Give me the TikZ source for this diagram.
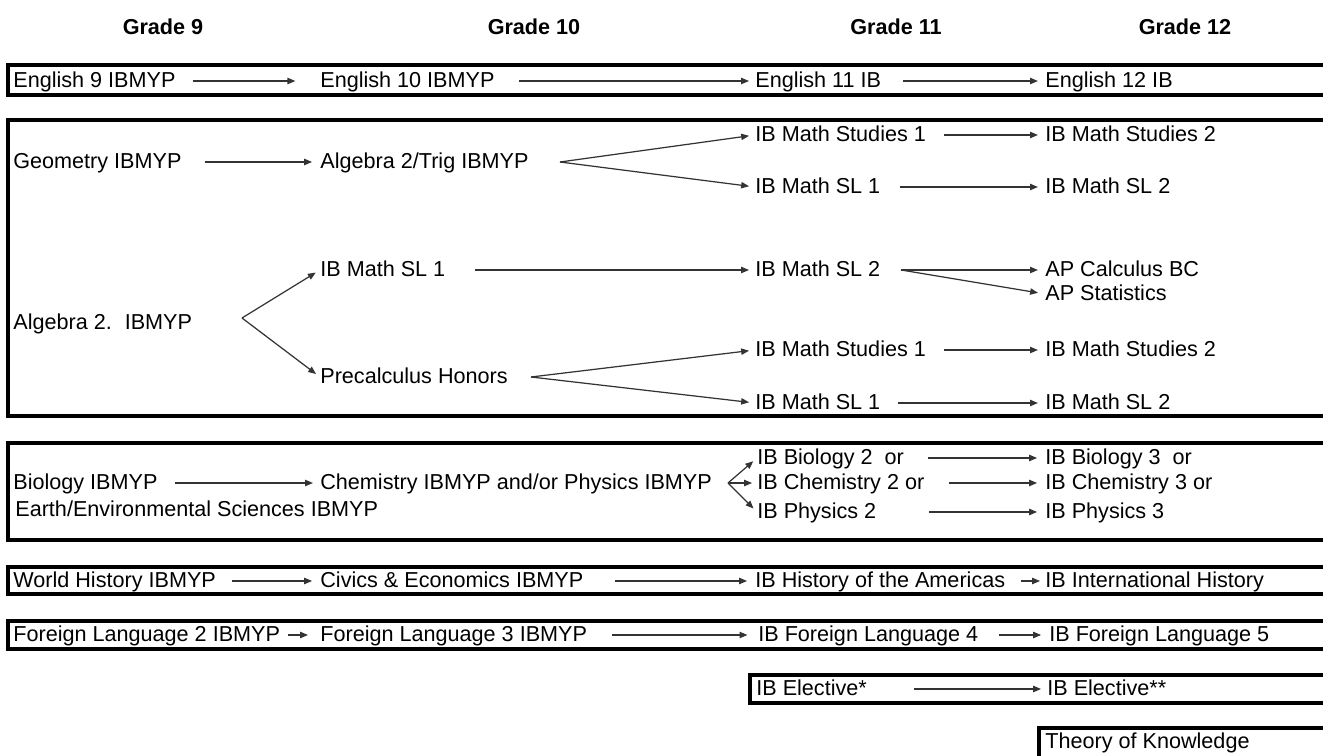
\documentclass[tikz,border=0pt]{standalone}
\usepackage{fontspec}
\setmainfont{Liberation Sans}
\usetikzlibrary{arrows.meta,calc}
\tikzset{
  course/.style={anchor=west,inner sep=0pt,text height=0.72em,text depth=0pt,
    font=\fontsize{12.3}{14}\selectfont},
  grade/.style={inner sep=0pt,font=\fontsize{12.3}{14}\selectfont\bfseries},
  band/.style={draw=black,line width=1.8pt},
  arrow/.style={-{Triangle[length=4.5pt,width=3.6pt]},line width=0.7pt,black!80,
    shorten <=10pt,shorten >=4pt},
  branch/.style={-{Triangle[length=4.5pt,width=3.6pt]},line width=0.7pt,black!80,
    shorten >=3.4pt}
}

\begin{document}
\begin{tikzpicture}[x=0.02cm,y=-0.02cm]
  \useasboundingbox (0,0) rectangle (1323,756);
  \clip (0,0) rectangle (1323,756);

  % grade headings
  \node[grade] (g9) at (163,27) {Grade 9};
  \node[grade] (g10) at (534,27) {Grade 10};
  \node[grade] (g11) at (896,27) {Grade 11};
  \node[grade] (g12) at (1185,27) {Grade 12};

  % bands, open to the right
  \draw[band] (8,65) rectangle (1340,95);
  \draw[band] (8,120) rectangle (1340,416);
  \draw[band] (8,443) rectangle (1340,540);
  \draw[band] (8,567) rectangle (1340,594);
  \draw[band] (8,621) rectangle (1340,649);
  \draw[band] (750,675) rectangle (1340,703);
  \draw[band] (1039,728) rectangle (1340,770);

  % English
  \node[course] (eng9) at (13,81) {English 9 IBMYP};
  \node[course] (eng10) at (320,81) {English 10 IBMYP};
  \node[course] (eng11) at (755,81) {English 11 IB};
  \node[course] (eng12) at (1045,81) {English 12 IB};
  \draw[arrow,shorten <=9.6pt,shorten >=14pt] (eng9) -- (eng10);
  \draw[arrow,shorten <=13.6pt,shorten >=3.4pt] (eng10) -- (eng11);
  \draw[arrow,shorten <=12.5pt] (eng11) -- (eng12);

  % Math
  \node[course] (geo) at (13,162) {Geometry IBMYP};
  \node[course] (trig) at (320,162) {Algebra 2/Trig IBMYP};
  \node[course] (studA) at (755,135) {IB Math Studies 1};
  \node[course] (slA) at (755,187) {IB Math SL 1};
  \node[course] (studA2) at (1045,135) {IB Math Studies 2};
  \node[course] (slA2) at (1045,187) {IB Math SL 2};
  \node[course] (alg) at (13,323) {Algebra 2.\hspace{0.6em}IBMYP};
  \node[course] (slB) at (320,270) {IB Math SL 1};
  \node[course] (pre) at (320,377) {Precalculus Honors};
  \node[course] (sl2B) at (755,270) {IB Math SL 2};
  \node[course] (calc) at (1045,270) {AP Calculus BC};
  \node[course] (stat) at (1045,294) {AP Statistics};
  \node[course] (studC) at (755,350) {IB Math Studies 1};
  \node[course] (slC) at (755,403) {IB Math SL 1};
  \node[course] (studC2) at (1045,350) {IB Math Studies 2};
  \node[course] (slC2) at (1045,403) {IB Math SL 2};
  \coordinate (forkTrig) at (560,162);
  \coordinate (forkAlg) at (242,318);
  \coordinate (forkSL) at (901,270);
  \coordinate (forkPre) at (531,377);
  \draw[arrow,shorten <=13pt,shorten >=4.5pt] (geo) -- (trig);
  \draw[branch] (forkTrig) -- (studA.west);
  \draw[branch] (forkTrig) -- (slA.west);
  \draw[arrow] (studA) -- (studA2);
  \draw[arrow,shorten <=10.8pt] (slA) -- (slA2);
  \draw[branch,shorten >=2.8pt] (forkAlg) -- (slB.west);
  \draw[branch,shorten >=2.8pt] (forkAlg) -- (pre.west);
  \draw[arrow,shorten <=16.5pt,shorten >=3.4pt] (slB) -- (sl2B);
  \draw[branch,shorten >=4pt] (forkSL) -- (calc.west);
  \draw[branch,shorten >=4pt] (forkSL) -- (stat.west);
  \draw[branch] (forkPre) -- (studC.west);
  \draw[branch] (forkPre) -- (slC.west);
  \draw[arrow] (studC) -- (studC2);
  \draw[arrow,shorten <=9.6pt] (slC) -- (slC2);

  % Science
  \node[course] (bio) at (13,483) {Biology IBMYP};
  \node[course] (chem) at (320,483) {Chemistry IBMYP and/or Physics IBMYP};
  \node[course] (earth) at (15,510) {Earth/Environmental Sciences IBMYP};
  \node[course] (bioB) at (757,458) {IB Biology 2\ \ or};
  \node[course] (chemB) at (757,483) {IB Chemistry 2 or};
  \node[course] (physB) at (757,512) {IB Physics 2};
  \node[course] (bioC) at (1045,458) {IB Biology 3\ \ or};
  \node[course] (chemC) at (1045,483) {IB Chemistry 3 or};
  \node[course] (physC) at (1045,512) {IB Physics 3};
  \coordinate (forkSci) at (728,483);
  \draw[arrow,shorten <=9.6pt] (bio) -- (chem);
  \draw[branch,shorten >=2.8pt] (forkSci) -- (bioB.west);
  \draw[branch,shorten >=2.8pt] (forkSci) -- (chemB.west);
  \draw[branch,shorten >=2.8pt] (forkSci) -- (physB.west);
  \draw[arrow,shorten <=13.6pt,shorten >=4.5pt] (bioB) -- (bioC);
  \draw[arrow,shorten <=14pt,shorten >=4.5pt] (chemB) -- (chemC);
  \draw[arrow,shorten <=30pt,shorten >=4.5pt] (physB) -- (physC);

  % History
  \node[course] (world) at (13,581) {World History IBMYP};
  \node[course] (civics) at (320,581) {Civics \& Economics IBMYP};
  \node[course] (amer) at (755,581) {IB History of the Americas};
  \node[course] (intl) at (1045,581) {IB International History};
  \draw[arrow,shorten <=9pt,shorten >=4.5pt] (world) -- (civics);
  \draw[arrow,shorten <=17.6pt,shorten >=4.5pt] (civics) -- (amer);
  \draw[arrow,shorten <=9pt,shorten >=2.8pt] (amer) -- (intl);

  % Languages
  \node[course] (lang2) at (13,635) {Foreign Language 2 IBMYP};
  \node[course] (lang3) at (320,635) {Foreign Language 3 IBMYP};
  \node[course] (lang4) at (758,635) {IB Foreign Language 4};
  \node[course] (lang5) at (1049,635) {IB Foreign Language 5};
  \draw[arrow,shorten <=4.5pt,shorten >=6.8pt] (lang2) -- (lang3);
  \draw[arrow,shorten <=14pt,shorten >=6pt] (lang3) -- (lang4);
  \draw[arrow,shorten <=11.4pt,shorten >=4.5pt] (lang4) -- (lang5);

  % Electives and TOK
  \node[course] (elecA) at (756,689) {IB Elective*};
  \node[course] (elecB) at (1047,689) {IB Elective**};
  \draw[arrow,shorten <=26.7pt,shorten >=3.4pt] (elecA) -- (elecB);
  \node[course] (tok) at (1045,742) {Theory of Knowledge};
\end{tikzpicture}
\end{document}
